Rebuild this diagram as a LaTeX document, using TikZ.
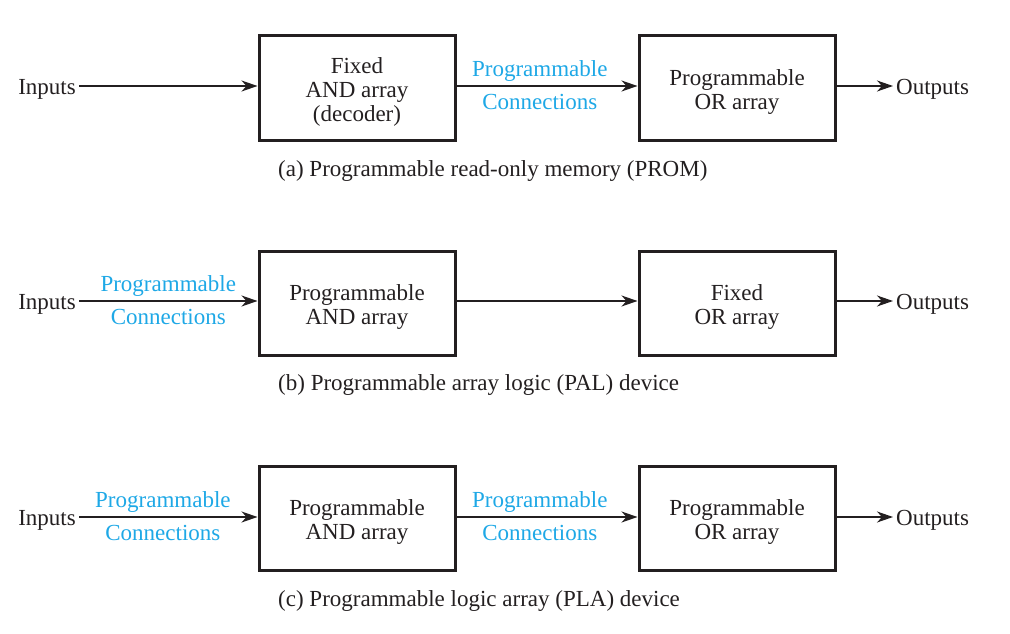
\documentclass[tikz,border=0pt]{standalone}
\usepackage{fontspec}
\setmainfont{Liberation Serif}
\usetikzlibrary{arrows.meta}
\definecolor{progblue}{RGB}{30,168,230}
\definecolor{ink}{RGB}{35,31,32}
\tikzset{
  blk/.style={draw=ink, line width=3pt, minimum width=196pt, minimum height=104pt, inner sep=0pt},
  boxtxt/.style={align=center, text=ink, inner sep=0pt},
  lbl/.style={text=ink, inner sep=3pt},
  conn/.style={draw=ink, line width=1.5pt, -{Stealth[length=16pt,width=11pt,inset=5pt]}},
  prog/.style={text=progblue, inner sep=0pt},
  captxt/.style={text=ink, anchor=west, inner sep=0pt}
}
\begin{document}
\begin{tikzpicture}[x=1pt,y=-1pt, font=\fontsize{23}{24}\selectfont]
\useasboundingbox (0,0) rectangle (1010,634);
% Row (a)
\node[blk] (a1) at (357,88) {};
\node[boxtxt] (a1t) at ([yshift=-4pt]a1.center) {Fixed\\AND array\\(decoder)};
\node[blk] (a2) at (737,88) {};
\node[boxtxt] (a2t) at ([yshift=-4pt]a2.center) {Programmable\\OR array};
\node[lbl, anchor=east] (ain) at (79,89) {Inputs};
\node[lbl, anchor=west] (aout) at (893,89) {Outputs};
\draw[conn] ([yshift=3pt]ain.east) -- ([yshift=3pt]a1.west |- ain.east);
\draw[conn] ([yshift=3pt]a1.east |- ain.east) -- node[prog, above=4pt, pos=0.46] (ap1) {Programmable} node[prog, below=8pt, pos=0.46] (ap2) {Connections} ([yshift=3pt]a2.west |- ain.east);
\draw[conn] ([yshift=3pt]a2.east |- aout.west) -- ([yshift=3pt]aout.west);
\node[captxt] (acap) at (278,171) {(a) Programmable read-only memory (PROM)};
% Row (b)
\node[blk] (b1) at (357,303) {};
\node[boxtxt] (b1t) at ([yshift=-4pt]b1.center) {Programmable\\AND array};
\node[blk] (b2) at (737,303) {};
\node[boxtxt] (b2t) at ([yshift=-4pt]b2.center) {Fixed\\OR array};
\node[lbl, anchor=east] (bin) at (79,304) {Inputs};
\node[lbl, anchor=west] (bout) at (893,304) {Outputs};
\draw[conn] ([yshift=3pt]bin.east) -- node[prog, above=4pt] (bp1) {Programmable} node[prog, below=8pt] (bp2) {Connections} ([yshift=3pt]b1.west |- bin.east);
\draw[conn] ([yshift=3pt]b1.east |- bin.east) -- ([yshift=3pt]b2.west |- bin.east);
\draw[conn] ([yshift=3pt]b2.east |- bout.west) -- ([yshift=3pt]bout.west);
\node[captxt] (bcap) at (278,385) {(b) Programmable array logic (PAL) device};
% Row (c)
\node[blk] (c1) at (357,518) {};
\node[boxtxt] (c1t) at ([yshift=-4pt]c1.center) {Programmable\\AND array};
\node[blk] (c2) at (737,518) {};
\node[boxtxt] (c2t) at ([yshift=-4pt]c2.center) {Programmable\\OR array};
\node[lbl, anchor=east] (cin) at (79,520) {Inputs};
\node[lbl, anchor=west] (cout) at (893,520) {Outputs};
\draw[conn] ([yshift=3pt]cin.east) -- node[prog, above=4pt, pos=0.47] (cp1) {Programmable} node[prog, below=8pt, pos=0.47] (cp2) {Connections} ([yshift=3pt]c1.west |- cin.east);
\draw[conn] ([yshift=3pt]c1.east |- cin.east) -- node[prog, above=4pt, pos=0.46] (cp3) {Programmable} node[prog, below=8pt, pos=0.46] (cp4) {Connections} ([yshift=3pt]c2.west |- cin.east);
\draw[conn] ([yshift=3pt]c2.east |- cout.west) -- ([yshift=3pt]cout.west);
\node[captxt] (ccap) at (278,601) {(c) Programmable logic array (PLA) device};
\end{tikzpicture}
\end{document}
